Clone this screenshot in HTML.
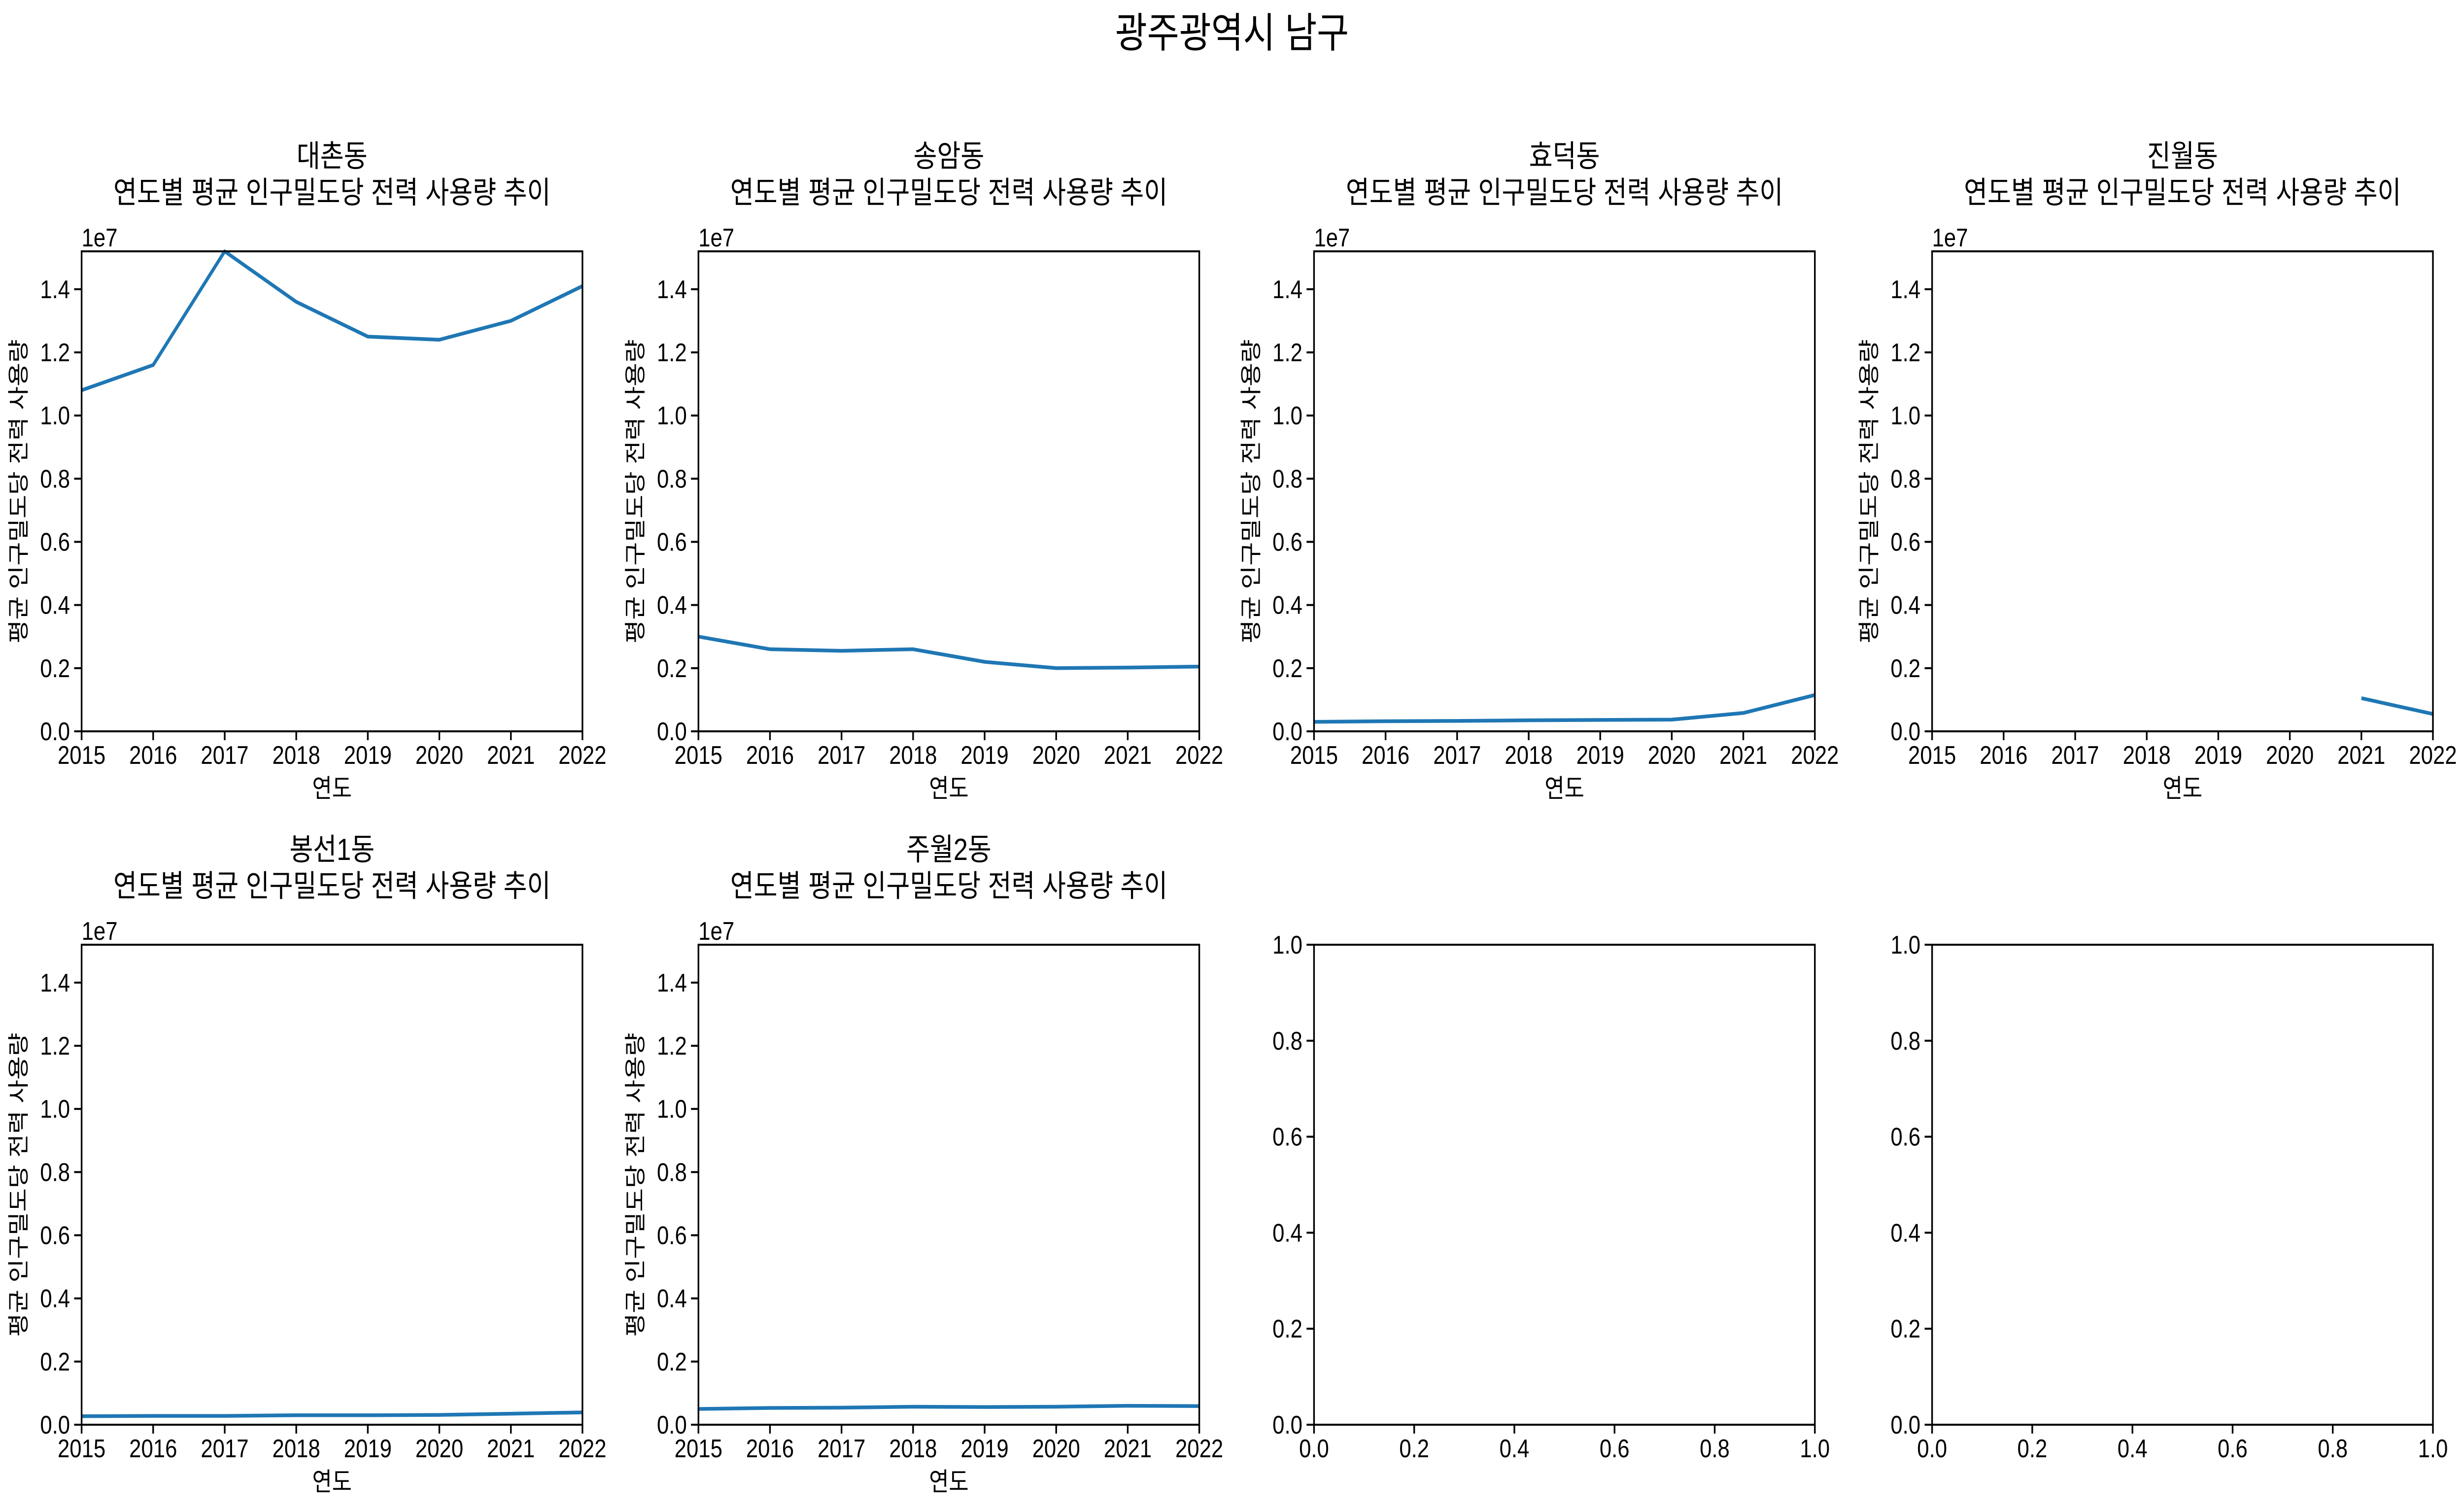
<!DOCTYPE html>
<html><head><meta charset="utf-8">
<style>
html,body{margin:0;padding:0;background:#fff;width:100%;height:100%;overflow:hidden;}
svg{display:block;width:100vw;height:100vh;}
text{font-family:"Liberation Sans","Noto Sans CJK KR",sans-serif;fill:#000;}
</style></head>
<body>
<svg id="fig" xmlns="http://www.w3.org/2000/svg" viewBox="0 0 5948 3060" preserveAspectRatio="none">
<rect width="5948" height="3060" fill="#fff"/>
<text x="2974" y="96" font-size="84" text-anchor="middle">광주광역시 남구</text>
</svg>
<script>
const years = [2015, 2016, 2017, 2018, 2019, 2020, 2021, 2022];
const dongNames = ["대촌동", "송암동", "효덕동", "진월동", "봉선1동", "주월2동"];
const seriesDaechon = [1.08, 1.16, 1.52, 1.36, 1.25, 1.24, 1.30, 1.41];
const seriesSongam = [0.30, 0.26, 0.255, 0.26, 0.22, 0.20, 0.202, 0.205];
const seriesHyodeok = [0.030, 0.032, 0.033, 0.035, 0.036, 0.037, 0.058, 0.115];
const seriesJinwol = [null, null, null, null, null, null, 0.105, 0.055];
const seriesBongseon1 = [0.027, 0.028, 0.028, 0.030, 0.030, 0.031, 0.035, 0.039];
const seriesJuwol2 = [0.050, 0.053, 0.054, 0.057, 0.056, 0.057, 0.060, 0.059];
const yTicks = [0.0, 0.2, 0.4, 0.6, 0.8, 1.0, 1.2, 1.4];
const unitTicks = [0.0, 0.2, 0.4, 0.6, 0.8, 1.0];
const yMax = 1.52;
const allSeries = [seriesDaechon, seriesSongam, seriesHyodeok, seriesJinwol, seriesBongseon1, seriesJuwol2];

const NS = "http://www.w3.org/2000/svg";
const svg = document.getElementById("fig");
const lefts = [197, 1686, 3172, 4664];
const tops = [510, 1917];
const W = 1209, H = 974;
function mk(tag, attrs, parent) {
  const e = document.createElementNS(NS, tag);
  for (const k in attrs) e.setAttribute(k, attrs[k]);
  (parent || svg).appendChild(e);
  return e;
}
function txt(str, attrs, parent) { const t = mk("text", attrs, parent); t.textContent = str; return t; }

for (let p = 0; p < 8; p++) {
  const col = p % 4, row = Math.floor(p / 4);
  const L = lefts[col], T = tops[row], B = T + H;
  const g = mk("g", {});
  
  
  const hasData = p < 6;
  const xmin = hasData ? years[0] : 0, xmax = hasData ? years[years.length - 1] : 1;
  const ymin = 0, ymaxv = hasData ? yMax : 1;
  const xs = v => L + (v - xmin) / (xmax - xmin) * W;
  const ys = v => B - (v - ymin) / (ymaxv - ymin) * H;

  if (hasData) {
    const s = allSeries[p];
    let d = "", pen = false;
    for (let i = 0; i < years.length; i++) {
      if (s[i] === null) { pen = false; continue; }
      d += (pen ? "L" : "M") + xs(years[i]).toFixed(1) + " " + ys(s[i]).toFixed(1) + " ";
      pen = true;
    }
    const cp = mk("clipPath", { id: "clip" + p }, g);
    mk("rect", { x: L, y: T - 4, width: W, height: H + 8 }, cp);
    const line = mk("path", { d: d, fill: "none", stroke: "#1f77b4", "stroke-width": 7.5, "stroke-linejoin": "round", "clip-path": "url(#clip" + p + ")" }, g);
    
    
  }
  const frame = mk("rect", { x: L, y: T, width: W, height: H, fill: "none", stroke: "#000", "stroke-width": 4 }, g);
  
  

  const xt = hasData ? years : unitTicks;
  xt.forEach(v => {
    const x = xs(v);
    mk("line", { x1: x, y1: B, x2: x, y2: B + 18, stroke: "#000", "stroke-width": 4 }, g);
    const t = txt(hasData ? String(v) : v.toFixed(1), { x: x, y: B + 66, "font-size": 52, "text-anchor": "middle" }, g);
    
    
  });
  const yt = hasData ? yTicks : unitTicks;
  yt.forEach(v => {
    const y = ys(v);
    mk("line", { x1: L - 18, y1: y, x2: L, y2: y, stroke: "#000", "stroke-width": 4 }, g);
    const t = txt(v.toFixed(1), { x: L - 28, y: y + 18, "font-size": 52, "text-anchor": "end" }, g);
    
    
  });
  if (hasData) {
    const off = txt("1e7", { x: L, y: T - 10, "font-size": 52 }, g);
    
    
    const t1 = txt(dongNames[p], { x: L + W / 2, y: T - 172, "font-size": 62, "text-anchor": "middle" }, g);
    
    
    const t2 = txt("연도별 평균 인구밀도당 전력 사용량 추이", { x: L + W / 2, y: T - 98, "font-size": 62, "text-anchor": "middle" }, g);
    
    
    const xl = txt("연도", { x: L + W / 2, y: B + 134, "font-size": 52, "text-anchor": "middle" }, g);
    
    
    const cx = L - 152, cy = T + H / 2;
    const yl = txt("평균 인구밀도당 전력 사용량", { x: cx, y: cy + 18, "font-size": 52, "text-anchor": "middle", transform: "rotate(-90 " + cx + " " + cy + ")" }, g);
    
    
  }
}
</script>
</body></html>
